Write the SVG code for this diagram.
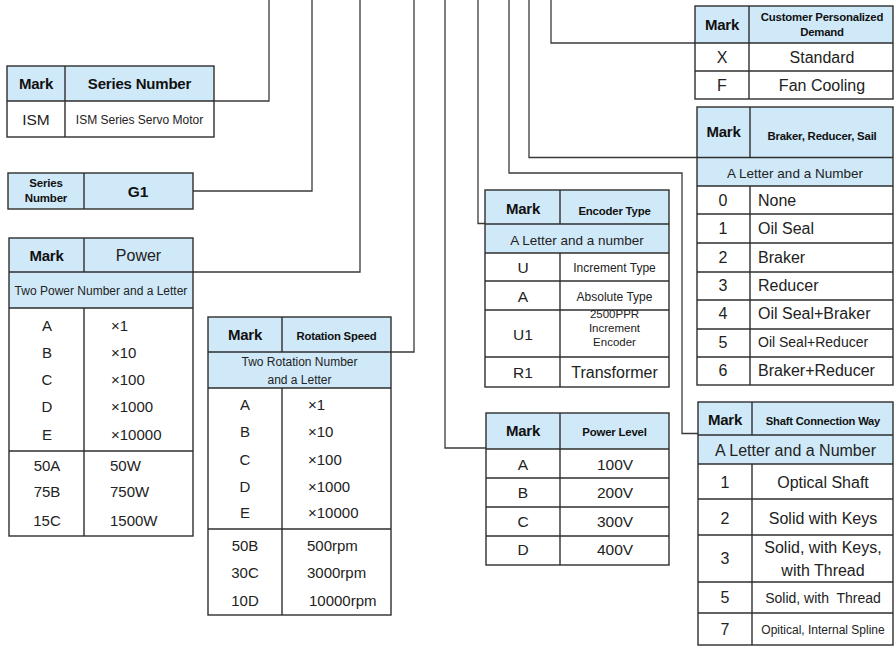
<svg xmlns="http://www.w3.org/2000/svg" width="894" height="646" viewBox="0 0 894 646">
<style>
.bg{fill:#ffffff}
.hd{fill:#d0e9f9}
.bx{fill:none;stroke:#2e2e2e;stroke-width:1.4}
.ln{stroke:#2e2e2e;stroke-width:1.4;fill:none}
.cn{stroke:#3a3a3a;stroke-width:1.3;fill:none}
text{font-family:"Liberation Sans",Arial,sans-serif;fill:#222}
.c{text-anchor:middle}
.b{font-weight:bold;fill:#111}
</style>
<rect class="bg" x="0" y="0" width="894" height="646"/>

<g id="connectors">
<path class="cn" d="M269,0 V101 H214"/>
<path class="cn" d="M312,0 V191 H193"/>
<path class="cn" d="M360,0 V272 H193"/>
<path class="cn" d="M414,0 V352 H391"/>
<path class="cn" d="M445,0 V448 H486"/>
<path class="cn" d="M478,0 V223.5 H485"/>
<path class="cn" d="M509,0 V173 H682 V433.5 H698"/>
<path class="cn" d="M529,0 V157.5 H697"/>
<path class="cn" d="M551,0 V43 H695"/>
</g>

<g id="series-number">
<rect class="hd" x="7" y="66" width="207" height="35"/>
<rect class="bx" x="7" y="66" width="207" height="71"/>
<line class="ln" x1="7" y1="101" x2="214" y2="101"/>
<line class="ln" x1="65" y1="66" x2="65" y2="137"/>
<text class="c b" x="36" y="89" font-size="15" letter-spacing="-0.2">Mark</text>
<text class="c b" x="139.5" y="89" font-size="15" letter-spacing="-0.2">Series Number</text>
<text class="c" x="36" y="124.5" font-size="15.5">ISM</text>
<text class="c" x="139.5" y="123.5" font-size="12">ISM Series Servo Motor</text>
</g>

<g id="series-g1">
<rect class="hd" x="8" y="173" width="185" height="36"/>
<rect class="bx" x="8" y="173" width="185" height="36"/>
<line class="ln" x1="84" y1="173" x2="84" y2="209"/>
<text class="c b" x="46" y="187" font-size="11.5" letter-spacing="-0.2">Series</text>
<text class="c b" x="46" y="202" font-size="11.5" letter-spacing="-0.2">Number</text>
<text class="c b" x="138" y="196.5" font-size="15.5">G1</text>
</g>

<g id="power">
<rect class="hd" x="9" y="238" width="184" height="70"/>
<rect class="bx" x="9" y="238" width="184" height="298"/>
<line class="ln" x1="9" y1="272" x2="193" y2="272"/>
<line class="ln" x1="9" y1="308" x2="193" y2="308"/>
<line class="ln" x1="9" y1="451" x2="193" y2="451"/>
<line class="ln" x1="84" y1="238" x2="84" y2="272"/>
<line class="ln" x1="84" y1="308" x2="84" y2="536"/>
<text class="c b" x="46.5" y="260.5" font-size="15" letter-spacing="-0.2">Mark</text>
<text class="c" x="138.5" y="261" font-size="16">Power</text>
<text class="c" x="101" y="294.5" font-size="12">Two Power Number and a Letter</text>
<text class="c" x="47" y="330.5" font-size="15">A</text>
<text class="c" x="47" y="358" font-size="15">B</text>
<text class="c" x="47" y="384.5" font-size="15">C</text>
<text class="c" x="47" y="412" font-size="15">D</text>
<text class="c" x="47" y="439.5" font-size="15">E</text>
<text x="111" y="330.5" font-size="15">×1</text>
<text x="111" y="358" font-size="15">×10</text>
<text x="111" y="384.5" font-size="15">×100</text>
<text x="111" y="412" font-size="15">×1000</text>
<text x="111" y="439.5" font-size="15">×10000</text>
<text class="c" x="47" y="471" font-size="15">50A</text>
<text class="c" x="47" y="497" font-size="15">75B</text>
<text class="c" x="47" y="525.5" font-size="15">15C</text>
<text x="110" y="471" font-size="15">50W</text>
<text x="110" y="497" font-size="15">750W</text>
<text x="110" y="525.5" font-size="15">1500W</text>
</g>

<g id="rotation-speed">
<rect class="hd" x="208" y="317" width="183" height="71"/>
<rect class="bx" x="208" y="317" width="183" height="298"/>
<line class="ln" x1="208" y1="352" x2="391" y2="352"/>
<line class="ln" x1="208" y1="388" x2="391" y2="388"/>
<line class="ln" x1="208" y1="529" x2="391" y2="529"/>
<line class="ln" x1="282" y1="317" x2="282" y2="352"/>
<line class="ln" x1="282" y1="388" x2="282" y2="615"/>
<text class="c b" x="245" y="340" font-size="15" letter-spacing="-0.2">Mark</text>
<text class="c b" x="336.5" y="340" font-size="11.3" letter-spacing="-0.2">Rotation Speed</text>
<text class="c" x="299.5" y="365.5" font-size="12">Two Rotation Number</text>
<text class="c" x="299.5" y="384" font-size="12">and a Letter</text>
<text class="c" x="245" y="409.5" font-size="15">A</text>
<text class="c" x="245" y="437" font-size="15">B</text>
<text class="c" x="245" y="464.5" font-size="15">C</text>
<text class="c" x="245" y="491.5" font-size="15">D</text>
<text class="c" x="245" y="518" font-size="15">E</text>
<text x="308" y="409.5" font-size="15">×1</text>
<text x="308" y="437" font-size="15">×10</text>
<text x="308" y="464.5" font-size="15">×100</text>
<text x="308" y="491.5" font-size="15">×1000</text>
<text x="308" y="518" font-size="15">×10000</text>
<text class="c" x="245" y="550.5" font-size="15">50B</text>
<text class="c" x="245" y="578" font-size="15">30C</text>
<text class="c" x="245" y="605.5" font-size="15">10D</text>
<text x="307" y="550.5" font-size="15">500rpm</text>
<text x="307" y="578" font-size="15">3000rpm</text>
<text x="309" y="605.5" font-size="15">10000rpm</text>
</g>

<g id="encoder-type">
<rect class="hd" x="485" y="190" width="184" height="63"/>
<rect class="bx" x="485" y="190" width="184" height="197"/>
<line class="ln" x1="485" y1="224" x2="669" y2="224"/>
<line class="ln" x1="485" y1="253" x2="669" y2="253"/>
<line class="ln" x1="485" y1="281" x2="669" y2="281"/>
<line class="ln" x1="485" y1="310" x2="669" y2="310"/>
<line class="ln" x1="485" y1="357" x2="669" y2="357"/>
<line class="ln" x1="560" y1="190" x2="560" y2="224"/>
<line class="ln" x1="560" y1="253" x2="560" y2="387"/>
<text class="c b" x="523" y="213.5" font-size="15" letter-spacing="-0.2">Mark</text>
<text class="c b" x="614.5" y="215" font-size="11.4" letter-spacing="-0.2">Encoder Type</text>
<text class="c" x="577" y="245" font-size="13.5">A Letter and a number</text>
<text class="c" x="523" y="273" font-size="15.5">U</text>
<text class="c" x="523" y="301.5" font-size="15.5">A</text>
<text class="c" x="523" y="339.5" font-size="15.5">U1</text>
<text class="c" x="523" y="378" font-size="15.5">R1</text>
<text class="c" x="614.5" y="271.5" font-size="12">Increment Type</text>
<text class="c" x="614.5" y="300.5" font-size="12">Absolute Type</text>
<text class="c" x="614.5" y="317.5" font-size="11.5">2500PPR</text>
<text class="c" x="614.5" y="331.5" font-size="11.5">Increment</text>
<text class="c" x="614.5" y="346" font-size="11.5">Encoder</text>
<text class="c" x="614.5" y="378" font-size="16">Transformer</text>
</g>

<g id="power-level">
<rect class="hd" x="486" y="413" width="183" height="36"/>
<rect class="bx" x="486" y="413" width="183" height="152"/>
<line class="ln" x1="486" y1="449" x2="669" y2="449"/>
<line class="ln" x1="486" y1="478" x2="669" y2="478"/>
<line class="ln" x1="486" y1="507" x2="669" y2="507"/>
<line class="ln" x1="486" y1="536" x2="669" y2="536"/>
<line class="ln" x1="560" y1="413" x2="560" y2="565"/>
<text class="c b" x="523" y="435.5" font-size="15" letter-spacing="-0.2">Mark</text>
<text class="c b" x="614.5" y="435.5" font-size="11.4" letter-spacing="-0.2">Power Level</text>
<text class="c" x="523" y="469.5" font-size="15.5">A</text>
<text class="c" x="523" y="498" font-size="15.5">B</text>
<text class="c" x="523" y="526.5" font-size="15.5">C</text>
<text class="c" x="523" y="555" font-size="15.5">D</text>
<text class="c" x="615" y="469.5" font-size="15.5">100V</text>
<text class="c" x="615" y="498" font-size="15.5">200V</text>
<text class="c" x="615" y="526.5" font-size="15.5">300V</text>
<text class="c" x="615" y="555" font-size="15.5">400V</text>
</g>

<g id="customer-demand">
<rect class="hd" x="695" y="6" width="198" height="37"/>
<rect class="bx" x="695" y="6" width="198" height="93"/>
<line class="ln" x1="695" y1="43" x2="893" y2="43"/>
<line class="ln" x1="695" y1="71" x2="893" y2="71"/>
<line class="ln" x1="749" y1="6" x2="749" y2="99"/>
<text class="c b" x="722" y="30" font-size="15" letter-spacing="-0.2">Mark</text>
<text class="c b" x="822" y="21" font-size="11.4" letter-spacing="-0.2">Customer Personalized</text>
<text class="c b" x="822" y="36" font-size="11.4" letter-spacing="-0.2">Demand</text>
<text class="c" x="722" y="62.5" font-size="16">X</text>
<text class="c" x="722" y="90.5" font-size="16">F</text>
<text class="c" x="822" y="62.5" font-size="16">Standard</text>
<text class="c" x="822" y="90.5" font-size="16">Fan Cooling</text>
</g>

<g id="braker-reducer-sail">
<rect class="hd" x="697" y="107" width="196" height="79"/>
<rect class="bx" x="697" y="107" width="196" height="278"/>
<line class="ln" x1="697" y1="157.5" x2="893" y2="157.5"/>
<line class="ln" x1="697" y1="186" x2="893" y2="186"/>
<line class="ln" x1="697" y1="214" x2="893" y2="214"/>
<line class="ln" x1="697" y1="243" x2="893" y2="243"/>
<line class="ln" x1="697" y1="272" x2="893" y2="272"/>
<line class="ln" x1="697" y1="300" x2="893" y2="300"/>
<line class="ln" x1="697" y1="329" x2="893" y2="329"/>
<line class="ln" x1="697" y1="357" x2="893" y2="357"/>
<line class="ln" x1="750" y1="107" x2="750" y2="157.5"/>
<line class="ln" x1="750" y1="186" x2="750" y2="385"/>
<text class="c b" x="723.5" y="137" font-size="15" letter-spacing="-0.2">Mark</text>
<text class="c b" x="822" y="139.5" font-size="11.4" letter-spacing="-0.2">Braker, Reducer, Sail</text>
<text class="c" x="795" y="178" font-size="13.5">A Letter and a Number</text>
<text class="c" x="723" y="205.5" font-size="16">0</text>
<text class="c" x="723" y="234" font-size="16">1</text>
<text class="c" x="723" y="262.5" font-size="16">2</text>
<text class="c" x="723" y="290.5" font-size="16">3</text>
<text class="c" x="723" y="319" font-size="16">4</text>
<text class="c" x="723" y="347.5" font-size="16">5</text>
<text class="c" x="723" y="376" font-size="16">6</text>
<text x="758" y="205.5" font-size="16">None</text>
<text x="758" y="234" font-size="16">Oil Seal</text>
<text x="758" y="262.5" font-size="16">Braker</text>
<text x="758" y="290.5" font-size="16">Reducer</text>
<text x="758" y="319" font-size="16">Oil Seal+Braker</text>
<text x="758" y="346.5" font-size="14">Oil Seal+Reducer</text>
<text x="758" y="376" font-size="16">Braker+Reducer</text>
</g>

<g id="shaft-connection">
<rect class="hd" x="698" y="402" width="195" height="62"/>
<rect class="bx" x="698" y="402" width="195" height="243"/>
<line class="ln" x1="698" y1="435" x2="893" y2="435"/>
<line class="ln" x1="698" y1="464" x2="893" y2="464"/>
<line class="ln" x1="698" y1="499" x2="893" y2="499"/>
<line class="ln" x1="698" y1="535" x2="893" y2="535"/>
<line class="ln" x1="698" y1="582" x2="893" y2="582"/>
<line class="ln" x1="698" y1="613" x2="893" y2="613"/>
<line class="ln" x1="752" y1="402" x2="752" y2="435"/>
<line class="ln" x1="752" y1="464" x2="752" y2="645"/>
<text class="c b" x="725" y="425" font-size="15" letter-spacing="-0.2">Mark</text>
<text class="c b" x="823" y="425" font-size="11.2" letter-spacing="-0.2">Shaft Connection Way</text>
<text class="c" x="795.5" y="455.5" font-size="16">A Letter and a Number</text>
<text class="c" x="725" y="487.5" font-size="16">1</text>
<text class="c" x="725" y="523.5" font-size="16">2</text>
<text class="c" x="725" y="564" font-size="16">3</text>
<text class="c" x="725" y="603" font-size="16">5</text>
<text class="c" x="725" y="635" font-size="16">7</text>
<text class="c" x="823" y="487.5" font-size="16">Optical Shaft</text>
<text class="c" x="823" y="523.5" font-size="16">Solid with Keys</text>
<text class="c" x="823" y="553" font-size="16">Solid, with Keys,</text>
<text class="c" x="823" y="575.5" font-size="16">with Thread</text>
<text class="c" x="823" y="602.5" font-size="14" xml:space="preserve">Solid, with  Thread</text>
<text class="c" x="823" y="633.5" font-size="12">Opitical, Internal Spline</text>
</g>
</svg>
